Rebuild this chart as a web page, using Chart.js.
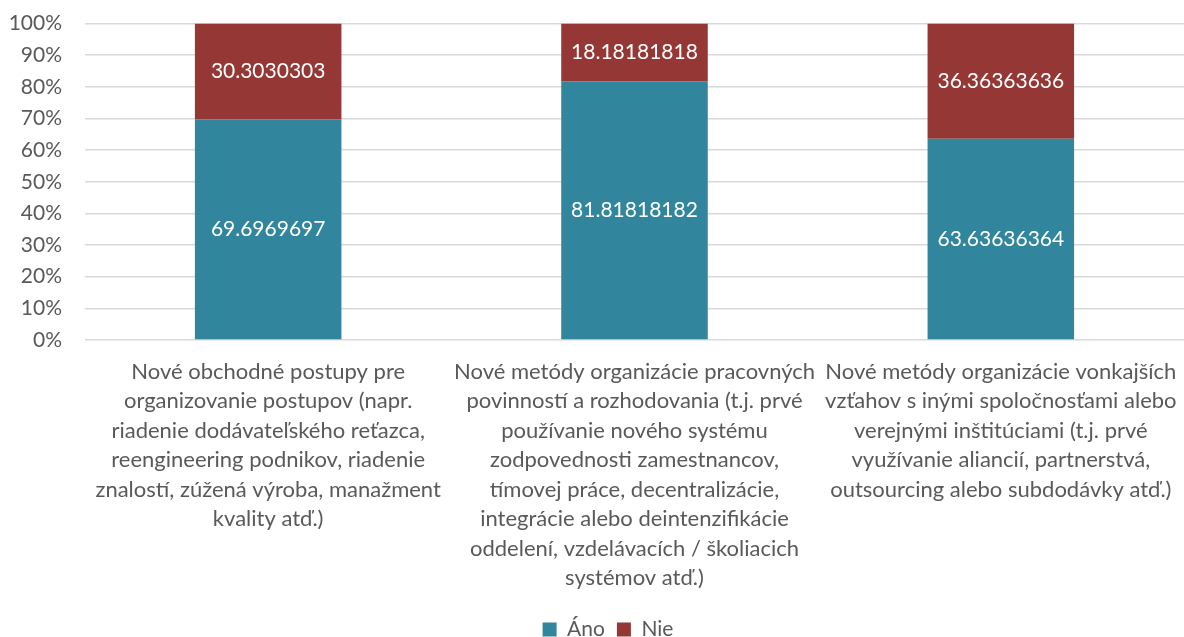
<!DOCTYPE html>
<html>
<head>
<meta charset="utf-8">
<script src="https://cdn.jsdelivr.net/npm/chart.js@4"></script>
<style>
  html, body { margin: 0; padding: 0; background: #fff; }
  #wrap { width: 1184px; height: 637px; }
</style>
</head>
<body>
<div id="wrap"><canvas id="chart"></canvas></div>
<script>
const categories = [
  ["Nové obchodné postupy pre", "organizovanie postupov (napr.", "riadenie dodávateľského reťazca,", "reengineering podnikov, riadenie", "znalostí, zúžená výroba, manažment", "kvality atď.)"],
  ["Nové metódy organizácie pracovných", "povinností a rozhodovania (t.j. prvé", "používanie nového systému", "zodpovednosti zamestnancov,", "tímovej práce, decentralizácie,", "integrácie alebo deintenzifikácie", "oddelení, vzdelávacích / školiacich", "systémov atď.)"],
  ["Nové metódy organizácie vonkajších", "vzťahov s inými spoločnosťami alebo", "verejnými inštitúciami (t.j. prvé", "využívanie aliancií, partnerstvá,", "outsourcing alebo subdodávky atď.)"]
];
const ano = [69.6969697, 81.81818182, 63.63636364];
const nie = [30.3030303, 18.18181818, 36.36363636];
const yTicks = [0, 10, 20, 30, 40, 50, 60, 70, 80, 90, 100];

const FONT = "Lato, 'Open Sans', sans-serif";
const TEXT = "#595959";

// draws the value in the middle of each bar segment
const barLabels = {
  id: "barLabels",
  afterDatasetsDraw(chart) {
    const ctx = chart.ctx;
    ctx.save();
    ctx.fillStyle = "#ffffff";
    ctx.font = "21px " + FONT;
    ctx.textAlign = "center";
    ctx.textBaseline = "middle";
    chart.data.datasets.forEach((ds, i) => {
      chart.getDatasetMeta(i).data.forEach((bar, j) => {
        ctx.fillText(String(ds.data[j]), bar.x, (bar.y + bar.base) / 2);
      });
    });
    ctx.restore();
  }
};

// nudge the legend a little to the right, like in the original
const legendShift = {
  id: "legendShift",
  afterLayout(chart) {
    const lg = chart.legend;
    lg.left += 16;
    lg.right += 16;
  }
};

new Chart(document.getElementById("chart"), {
  type: "bar",
  data: {
    labels: categories,
    datasets: [
      { label: "Áno", data: ano, backgroundColor: "#31859C" },
      { label: "Nie", data: nie, backgroundColor: "#953735" }
    ]
  },
  options: {
    responsive: true,
    maintainAspectRatio: false,
    animation: false,
    layout: { padding: { top: 0, right: 0, left: 0, bottom: -13 } },
    datasets: { bar: { categoryPercentage: 1, barPercentage: 0.4 } },
    scales: {
      x: {
        stacked: true,
        grid: { display: false },
        border: { display: false },
        afterFit(axis) {
          axis.height = 267;
          axis.paddingLeft = 0;
          axis.paddingRight = 0;
        },
        ticks: {
          color: TEXT,
          font: { family: FONT, size: 22, lineHeight: 1.34 },
          autoSkip: false,
          maxRotation: 0,
          padding: 9
        }
      },
      y: {
        stacked: true,
        min: 0,
        max: 100,
        afterBuildTicks(axis) { axis.ticks = yTicks.map(v => ({ value: v })); },
        afterFit(axis) { axis.width = 85; },
        grid: { color: "#d9d9d9", lineWidth: 1.5, tickLength: 12, tickColor: "rgba(0,0,0,0)" },
        border: { display: false },
        ticks: {
          color: TEXT,
          font: { family: FONT, size: 21 },
          padding: 11,
          callback: v => v + "%"
        }
      }
    },
    plugins: {
      tooltip: { enabled: false },
      legend: {
        position: "bottom",
        labels: {
          color: TEXT,
          font: { family: FONT, size: 21 },
          boxWidth: 14,
          boxHeight: 14,
          padding: 12
        }
      }
    }
  },
  plugins: [barLabels, legendShift]
});
</script>
</body>
</html>
